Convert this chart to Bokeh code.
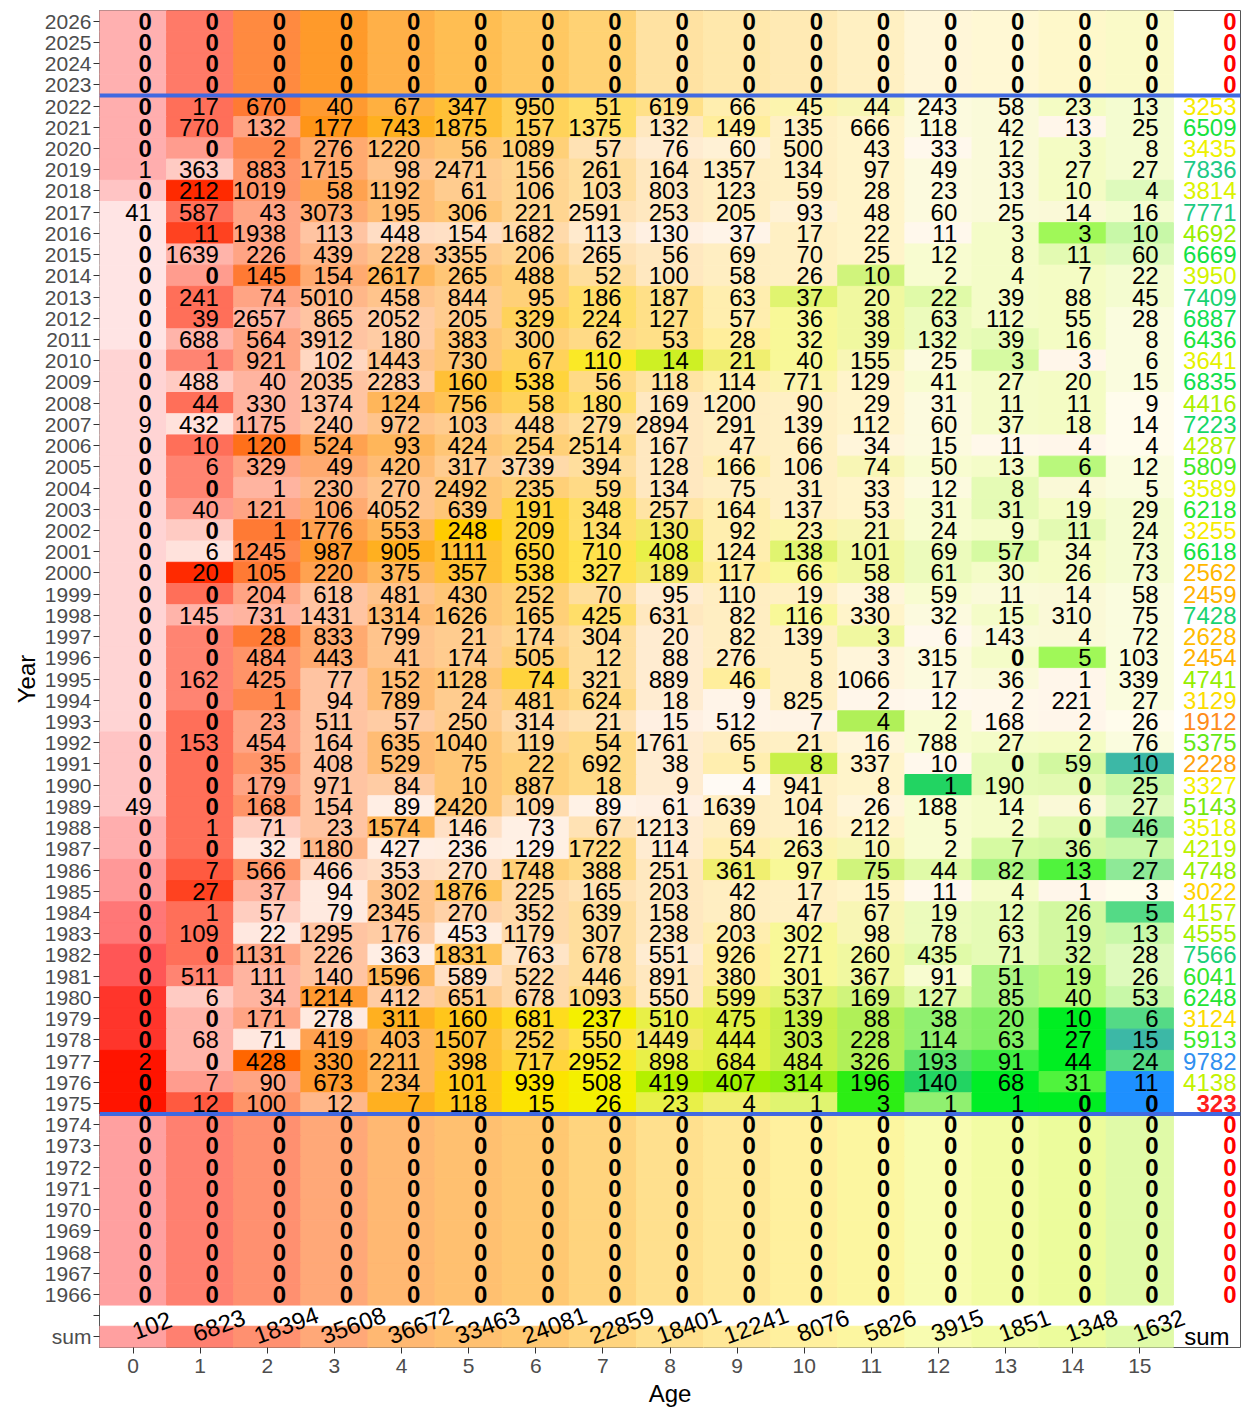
import math

from bokeh.plotting import figure
from bokeh.models import ColumnDataSource, FixedTicker, Range1d, Span
from bokeh.core.properties import value
from bokeh.embed import file_html
from bokeh.resources import INLINE

# ---------------------------------------------------------------- data
ages = list(range(16))
years = list(range(2022, 1974, -1))          # 2022 ... 1975
early_blank_years = list(range(1966, 1975))  # rows shown as zeros below the data
late_blank_years = list(range(2023, 2027))   # rows shown as zeros above the data

# numbers at age 0..15 for each year
c2022 = [0, 17, 670, 40, 67, 347, 950, 51, 619, 66, 45, 44, 243, 58, 23, 13]
c2021 = [0, 770, 132, 177, 743, 1875, 157, 1375, 132, 149, 135, 666, 118, 42, 13, 25]
c2020 = [0, 0, 2, 276, 1220, 56, 1089, 57, 76, 60, 500, 43, 33, 12, 3, 8]
c2019 = [1, 363, 883, 1715, 98, 2471, 156, 261, 164, 1357, 134, 97, 49, 33, 27, 27]
c2018 = [0, 212, 1019, 58, 1192, 61, 106, 103, 803, 123, 59, 28, 23, 13, 10, 4]
c2017 = [41, 587, 43, 3073, 195, 306, 221, 2591, 253, 205, 93, 48, 60, 25, 14, 16]
c2016 = [0, 11, 1938, 113, 448, 154, 1682, 113, 130, 37, 17, 22, 11, 3, 3, 10]
c2015 = [0, 1639, 226, 439, 228, 3355, 206, 265, 56, 69, 70, 25, 12, 8, 11, 60]
c2014 = [0, 0, 145, 154, 2617, 265, 488, 52, 100, 58, 26, 10, 2, 4, 7, 22]
c2013 = [0, 241, 74, 5010, 458, 844, 95, 186, 187, 63, 37, 20, 22, 39, 88, 45]
c2012 = [0, 39, 2657, 865, 2052, 205, 329, 224, 127, 57, 36, 38, 63, 112, 55, 28]
c2011 = [0, 688, 564, 3912, 180, 383, 300, 62, 53, 28, 32, 39, 132, 39, 16, 8]
c2010 = [0, 1, 921, 102, 1443, 730, 67, 110, 14, 21, 40, 155, 25, 3, 3, 6]
c2009 = [0, 488, 40, 2035, 2283, 160, 538, 56, 118, 114, 771, 129, 41, 27, 20, 15]
c2008 = [0, 44, 330, 1374, 124, 756, 58, 180, 169, 1200, 90, 29, 31, 11, 11, 9]
c2007 = [9, 432, 1175, 240, 972, 103, 448, 279, 2894, 291, 139, 112, 60, 37, 18, 14]
c2006 = [0, 10, 120, 524, 93, 424, 254, 2514, 167, 47, 66, 34, 15, 11, 4, 4]
c2005 = [0, 6, 329, 49, 420, 317, 3739, 394, 128, 166, 106, 74, 50, 13, 6, 12]
c2004 = [0, 0, 1, 230, 270, 2492, 235, 59, 134, 75, 31, 33, 12, 8, 4, 5]
c2003 = [0, 40, 121, 106, 4052, 639, 191, 348, 257, 164, 137, 53, 31, 31, 19, 29]
c2002 = [0, 0, 1, 1776, 553, 248, 209, 134, 130, 92, 23, 21, 24, 9, 11, 24]
c2001 = [0, 6, 1245, 987, 905, 1111, 650, 710, 408, 124, 138, 101, 69, 57, 34, 73]
c2000 = [0, 20, 105, 220, 375, 357, 538, 327, 189, 117, 66, 58, 61, 30, 26, 73]
c1999 = [0, 0, 204, 618, 481, 430, 252, 70, 95, 110, 19, 38, 59, 11, 14, 58]
c1998 = [0, 145, 731, 1431, 1314, 1626, 165, 425, 631, 82, 116, 330, 32, 15, 310, 75]
c1997 = [0, 0, 28, 833, 799, 21, 174, 304, 20, 82, 139, 3, 6, 143, 4, 72]
c1996 = [0, 0, 484, 443, 41, 174, 505, 12, 88, 276, 5, 3, 315, 0, 5, 103]
c1995 = [0, 162, 425, 77, 152, 1128, 74, 321, 889, 46, 8, 1066, 17, 36, 1, 339]
c1994 = [0, 0, 1, 94, 789, 24, 481, 624, 18, 9, 825, 2, 12, 2, 221, 27]
c1993 = [0, 0, 23, 511, 57, 250, 314, 21, 15, 512, 7, 4, 2, 168, 2, 26]
c1992 = [0, 153, 454, 164, 635, 1040, 119, 54, 1761, 65, 21, 16, 788, 27, 2, 76]
c1991 = [0, 0, 35, 408, 529, 75, 22, 692, 38, 5, 8, 337, 10, 0, 59, 10]
c1990 = [0, 0, 179, 971, 84, 10, 887, 18, 9, 4, 941, 8, 1, 190, 0, 25]
c1989 = [49, 0, 168, 154, 89, 2420, 109, 89, 61, 1639, 104, 26, 188, 14, 6, 27]
c1988 = [0, 1, 71, 23, 1574, 146, 73, 67, 1213, 69, 16, 212, 5, 2, 0, 46]
c1987 = [0, 0, 32, 1180, 427, 236, 129, 1722, 114, 54, 263, 10, 2, 7, 36, 7]
c1986 = [0, 7, 566, 466, 353, 270, 1748, 388, 251, 361, 97, 75, 44, 82, 13, 27]
c1985 = [0, 27, 37, 94, 302, 1876, 225, 165, 203, 42, 17, 15, 11, 4, 1, 3]
c1984 = [0, 1, 57, 79, 2345, 270, 352, 639, 158, 80, 47, 67, 19, 12, 26, 5]
c1983 = [0, 109, 22, 1295, 176, 453, 1179, 307, 238, 203, 302, 98, 78, 63, 19, 13]
c1982 = [0, 0, 1131, 226, 363, 1831, 763, 678, 551, 926, 271, 260, 435, 71, 32, 28]
c1981 = [0, 511, 111, 140, 1596, 589, 522, 446, 891, 380, 301, 367, 91, 51, 19, 26]
c1980 = [0, 6, 34, 1214, 412, 651, 678, 1093, 550, 599, 537, 169, 127, 85, 40, 53]
c1979 = [0, 0, 171, 278, 311, 160, 681, 237, 510, 475, 139, 88, 38, 20, 10, 6]
c1978 = [0, 68, 71, 419, 403, 1507, 252, 550, 1449, 444, 303, 228, 114, 63, 27, 15]
c1977 = [2, 0, 428, 330, 2211, 398, 717, 2952, 898, 684, 484, 326, 193, 91, 44, 24]
c1976 = [0, 7, 90, 673, 234, 101, 939, 508, 419, 407, 314, 196, 140, 68, 31, 11]
c1975 = [0, 12, 100, 12, 7, 118, 15, 26, 23, 4, 1, 3, 1, 1, 0, 0]

catch_rows = [c2022, c2021, c2020, c2019, c2018, c2017, c2016, c2015, c2014, c2013,
              c2012, c2011, c2010, c2009, c2008, c2007, c2006, c2005, c2004, c2003,
              c2002, c2001, c2000, c1999, c1998, c1997, c1996, c1995, c1994, c1993,
              c1992, c1991, c1990, c1989, c1988, c1987, c1986, c1985, c1984, c1983,
              c1982, c1981, c1980, c1979, c1978, c1977, c1976, c1975]

year_totals = [3253, 6509, 3435, 7836, 3814, 7771, 4692, 6669, 3950, 7409,
               6887, 6436, 3641, 6835, 4416, 7223, 4287, 5809, 3589, 6218,
               3255, 6618, 2562, 2459, 7428, 2628, 2454, 4741, 3129, 1912,
               5375, 2228, 3327, 5143, 3518, 4219, 4748, 3022, 4157, 4555,
               7566, 6041, 6248, 3124, 5913, 9782, 4138, 323]

age_totals = [102, 6823, 18394, 35608, 36672, 33463, 24081, 22859,
              18401, 12241, 8076, 5826, 3915, 1851, 1348, 1632]

# ---------------------------------------------------------------- styling
# shading strength (0 = palest, 9 = full colour) of every cell, 2022 ... 1975
shade_rows = [
    "4677776654442233", "4648876635332213", "4465555322331233", "4255444433332233",
    "3956544433332234", "1645554333232223", "1843223211331375", "1344444333333344",
    "1475655433363333", "1644445654655333", "1633346654554332", "1343355555554432",
    "2542456886542512", "2233377544433332", "2633666633332331", "2133444433332331",
    "2686655533322111", "2545543434343362", "2534455533332422", "2445457644333433",
    "2276697664443343", "2167877774654533", "2976677765554333", "2643455423323222",
    "2333555633532322", "2575444423351222", "2555445423322372", "2553557425322212",
    "2563545521311112", "2643343311173111", "3643554523323332", "3653555524731458",
    "3643355520339445", "3653153113323324", "4623621323333346", "4614111524443555",
    "5752225536565686", "5831463333331311", "6621433433344457", "6613313434544455",
    "7643162425555454", "7533623435553664", "8237343536665665", "8341888977777797",
    "8316676767777798", "9397677877778897", "9447689999999989", "9754889976697999",
]

# colour ramp of every age column: (strength, colour) stops
ramps = [
    [(1, "#FFE4E4"), (3, "#FFC4C4"), (5, "#FF9898"), (7, "#FF5656"), (9, "#FF1400")],
    [(1, "#FFE2DC"), (3, "#FFB4AA"), (5, "#FF8472"), (7, "#FF5A40"), (9, "#FF2A00")],
    [(1, "#FFE8E0"), (3, "#FFB4A0"), (5, "#FF9468"), (7, "#FF7A34"), (9, "#FF6600")],
    [(1, "#FFEAE0"), (3, "#FFC4A2"), (5, "#FFAA70"), (7, "#FF9A30"), (9, "#FF9000")],
    [(1, "#FFEEE4"), (3, "#FFCCA4"), (5, "#FFBC74"), (7, "#FFB040"), (9, "#FFB000")],
    [(1, "#FFEEE2"), (3, "#FFD2A8"), (5, "#FFC676"), (7, "#FFC036"), (9, "#FFCC00")],
    [(1, "#FFF0E4"), (3, "#FFDAAA"), (5, "#FFD078"), (7, "#FFD43C"), (9, "#FCE400")],
    [(1, "#FFF2E6"), (3, "#FFE2B4"), (5, "#FFDA86"), (7, "#FFE24C"), (9, "#F4F000")],
    [(1, "#FFF0E2"), (3, "#FFE8C0"), (5, "#FFE088"), (7, "#E8F048"), (9, "#B4F000")],
    [(1, "#FFF4E8"), (3, "#FFEEC2"), (5, "#FFEE9C"), (7, "#E0F044"), (9, "#A0F000")],
    [(1, "#FFF4E6"), (3, "#FFF0C4"), (5, "#F8F898"), (7, "#C8F048"), (9, "#8CF010")],
    [(1, "#FFF6EA"), (3, "#FFF4CA"), (5, "#F0F8A0"), (7, "#B0F058"), (9, "#2CEE14")],
    [(1, "#FFF8EC"), (3, "#F8FCD0"), (5, "#E0FAA8"), (7, "#90F070"), (9, "#22D462")],
    [(1, "#FFF8EA"), (3, "#F4FCC8"), (5, "#D6FAA2"), (7, "#80F064"), (9, "#00EE26")],
    [(1, "#FFF6EA"), (3, "#F4FCC4"), (5, "#D2F8A0"), (7, "#A0F858"), (9, "#00EE22")],
    [(1, "#FFFCEC"), (3, "#F4FCD0"), (5, "#C8F8A8"), (7, "#54DA86"), (8, "#3CB8A6"),
     (9, "#1E90FF")],
]

late_fill = ["#FFB0B0", "#FF7A68", "#FF8A40", "#FF9A2A", "#FFB048", "#FFBE52",
             "#FFC862", "#FFD274", "#FFE2A2", "#FFE8AC", "#FFEAB4", "#FFF0C2",
             "#FFF6D8", "#FFF8D4", "#FEF8CA", "#FAFAC8"]
early_fill = ["#FFA0A0", "#FF8070", "#FF9070", "#FFA878", "#FFB872", "#FFC070",
              "#FFC872", "#FFD47E", "#FFE08E", "#FFE898", "#FFF09E", "#FCF6A0",
              "#F8FCB0", "#F2FCA4", "#ECFC9C", "#E0FAA8"]

# text colour scale of the yearly totals: (total, colour) stops
total_scale = [(323, "#FF1E1E"), (1912, "#FF8C1A"), (2450, "#FFB000"), (3050, "#FFD400"),
               (3300, "#F5F000"), (3900, "#D8F400"), (4300, "#B4F000"), (4700, "#98EE00"),
               (5250, "#6CE810"), (5850, "#40E828"), (6300, "#1EE434"), (6750, "#10E048"),
               (7300, "#16D66C"), (7800, "#20CA84"), (9782, "#3090F0")]

FONT = value("Liberation Sans")
CELL_SIZE = "24px"
SUM_COL = 16


def to_rgb(h):
    return tuple(int(h[i:i + 2], 16) for i in (1, 3, 5))


def to_hex(rgb):
    return "#%02X%02X%02X" % tuple(int(round(c)) for c in rgb)


def mix(a, b, t):
    return tuple(a[i] + (b[i] - a[i]) * t for i in range(3))


def along(stops, v):
    for (v0, h0), (v1, h1) in zip(stops[:-1], stops[1:]):
        if v0 <= v <= v1:
            return to_hex(mix(to_rgb(h0), to_rgb(h1), (v - v0) / (v1 - v0)))
    return stops[-1][1] if v > stops[-1][0] else stops[0][1]


def shade(age, level):
    stops = ramps[age]
    if level < stops[0][0]:
        return to_hex(mix((255, 255, 255), to_rgb(stops[0][1]), 0.5 + 0.5 * level / stops[0][0]))
    return along(stops, level)


lo_total = min(year_totals)

# ---------------------------------------------------------------- tables
tiles = dict(x=[], y=[], fill=[])
cells = dict(x=[], y=[], label=[], color=[], style=[])

for i, yr in enumerate(years):
    row = catch_rows[i]
    for a in ages:
        tiles["x"].append(a)
        tiles["y"].append(yr)
        tiles["fill"].append(shade(a, int(shade_rows[i][a])))
        cells["x"].append(a + 0.28)
        cells["y"].append(yr)
        cells["label"].append(str(row[a]))
        cells["color"].append("black")
        cells["style"].append("bold" if row[a] == 0 else "normal")
    tot = year_totals[i]
    cells["x"].append(SUM_COL + 0.44)
    cells["y"].append(yr)
    cells["label"].append(str(tot))
    cells["color"].append(along(total_scale, tot))
    cells["style"].append("bold" if tot == lo_total else "normal")

for blank_years, fills in ((early_blank_years, early_fill), (late_blank_years, late_fill)):
    for yr in blank_years:
        for a in ages:
            tiles["x"].append(a)
            tiles["y"].append(yr)
            tiles["fill"].append(fills[a])
            cells["x"].append(a + 0.28)
            cells["y"].append(yr)
            cells["label"].append("0")
            cells["color"].append("black")
            cells["style"].append("bold")
        cells["x"].append(SUM_COL + 0.44)
        cells["y"].append(yr)
        cells["label"].append("0")
        cells["color"].append("#FF0000")
        cells["style"].append("bold")

# row of age totals at the bottom
SUM_ROW = 1964
for a in ages:
    tiles["x"].append(a)
    tiles["y"].append(SUM_ROW)
    tiles["fill"].append(early_fill[a])

totals_src = ColumnDataSource(dict(x=[a + 0.28 for a in ages],
                                   y=[SUM_ROW + 0.55] * len(ages),
                                   label=[str(v) for v in age_totals]))

# ---------------------------------------------------------------- figure
p = figure(frame_width=1141, frame_height=1337,
           x_range=Range1d(-0.5, 16.5), y_range=Range1d(1963.5, 2026.5),
           output_backend="svg", toolbar_location=None,
           min_border_left=99, min_border_right=6, min_border_top=10, min_border_bottom=61,
           background_fill_color="white", border_fill_color="white")

p.rect(x="x", y="y", width=1, height=1, fill_color="fill", line_color="fill",
       line_width=1, source=ColumnDataSource(tiles))

p.text(x="x", y="y", text="label", text_color="color", text_font_style="style",
       text_font=FONT, text_font_size=CELL_SIZE, text_align="right",
       text_baseline="middle", source=ColumnDataSource(cells))

p.text(x="x", y="y", text="label", angle=math.radians(20), text_color="black",
       text_font=FONT, text_font_size=CELL_SIZE, text_align="center",
       text_baseline="middle", source=totals_src)

p.text(x=[SUM_COL], y=[SUM_ROW], text=["sum"], text_color="black",
       text_font=FONT, text_font_size=CELL_SIZE, text_align="center",
       text_baseline="middle")

for loc in (2022.5, 1974.5):
    p.add_layout(Span(location=loc, dimension="width", line_color="#4169E1", line_width=4))

p.xgrid.visible = False
p.ygrid.visible = False
p.outline_line_color = "#555555"
p.outline_line_width = 1

p.xaxis.ticker = FixedTicker(ticks=ages)
p.yaxis.ticker = FixedTicker(ticks=list(range(SUM_ROW, 2027)))
p.yaxis.major_label_overrides = {SUM_ROW: "sum", SUM_ROW + 1: ""}

for ax in (p.xaxis[0], p.yaxis[0]):
    ax.axis_line_color = None
    ax.major_tick_in = 0
    ax.major_tick_out = 6
    ax.major_tick_line_color = "#333333"
    ax.minor_tick_line_color = None
    ax.major_label_text_font = "Liberation Sans"
    ax.major_label_text_font_size = "21px"
    ax.major_label_text_color = "#4D4D4D"
    ax.axis_label_text_font = "Liberation Sans"
    ax.axis_label_text_font_size = "24px"
    ax.axis_label_text_font_style = "normal"
    ax.axis_label_text_color = "black"

p.xaxis.major_label_standoff = 5
p.xaxis.axis_label_standoff = 4
p.yaxis.major_label_standoff = 2
p.yaxis.axis_label_standoff = 2

p.xaxis.axis_label = "Age"
p.yaxis.axis_label = "Year"

open("out.html", "w").write(file_html(p, INLINE))
